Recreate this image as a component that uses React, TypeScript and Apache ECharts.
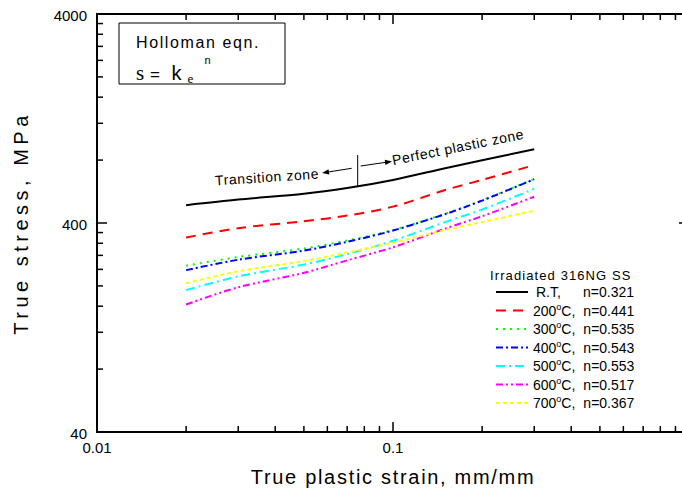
import React, { useEffect, useRef } from "react";
import * as echarts from "echarts";

// ---- data ----
const strain = [0.02, 0.03, 0.05, 0.07, 0.1, 0.15, 0.2, 0.3];
const rt = [487, 518, 552, 588, 643, 731, 798, 901];
const c200 = [341, 378, 408, 434, 479, 575, 643, 757];
const c300 = [250, 275, 302, 330, 370, 443, 514, 650];
const c400 = [238, 267, 295, 325, 368, 441, 512, 648];
const c500 = [191, 222, 253, 284, 329, 404, 464, 584];
const c600 = [163, 197, 231, 265, 306, 376, 431, 534];
const c700 = [206, 235, 263, 289, 322, 370, 404, 458];

const seriesNames = ["R.T", "200C", "300C", "400C", "500C", "600C", "700C"];
const nValues = ["0.321", "0.441", "0.535", "0.543", "0.553", "0.517", "0.367"];
const tempLabels = ["R.T,", "200", "300", "400", "500", "600", "700"];

const xMajor = [0.01, 0.1, 1];
const xTickLabels = ["0.01", "0.1", ""];
const xMinor = [0.02, 0.03, 0.04, 0.05, 0.06, 0.07, 0.08, 0.09, 0.2, 0.3, 0.4, 0.5, 0.6, 0.7, 0.8, 0.9];
const yMajor = [40, 400, 4000];
const yTickLabels = ["40", "400", "4000"];
const yMinor = [80, 120, 160, 200, 240, 280, 320, 360, 800, 1200, 1600, 2000, 2400, 2800, 3200, 3600];

const FONT = "'Liberation Sans', Arial, Helvetica, sans-serif";
const SERIF = "'Liberation Serif', 'Times New Roman', serif";

// letter spacing (tracking) per text, applied to the SVG text nodes
const tracking: Record<string, number> = {
  "True plastic strain, mm/mm": 1.7,
  "True stress, MPa": 4.5,
  "Holloman eqn.": 1.6,
  "Irradiated 316NG SS": 1.1,
  "Transition zone": 0.6,
  "Perfect plastic zone": 0.6,
};

function arrow(x1: number, y1: number, x2: number, y2: number) {
  const dx = x2 - x1, dy = y2 - y1;
  const L = Math.sqrt(dx * dx + dy * dy);
  const ux = dx / L, uy = dy / L;
  const hl = 7, hw = 2.6;
  const bx = x2 - ux * hl, by = y2 - uy * hl;
  return [
    { type: "line", shape: { x1, y1, x2: bx, y2: by }, style: { stroke: "#000", lineWidth: 1 } },
    {
      type: "polygon",
      shape: { points: [[x2, y2], [bx - uy * hw, by + ux * hw], [bx + uy * hw, by - ux * hw]] },
      style: { fill: "#000" },
    },
  ];
}

export default function App() {
  const ref = useRef<HTMLDivElement>(null);
  useEffect(() => {
    if (!ref.current) return;
    const chart = echarts.init(ref.current, null, { renderer: "svg" });

    const mk = (name: string, vals: number[], color: string, type: any) => ({
      name,
      type: "line",
      data: strain.map((s, i) => [s, vals[i]]),
      symbol: "none",
      smooth: 0.3,
      lineStyle: { color, width: 2, type },
      itemStyle: { color },
      z: 3,
    });

    const xTickData = [
      ...xMajor.map((v) => [v, 40, 1]),
      ...xMinor.map((v) => [v, 40, 0]),
    ];
    const yTickData = [
      ...yMajor.map((v, i) => [0.01, v, 1, i]),
      ...yMinor.map((v) => [0.01, v, 0, -1]),
    ];

    const tickStyle = { stroke: "#000", lineWidth: 1.5 };

    const option: any = {
      animation: false,
      grid: { left: 97, top: 14, width: 592, height: 418, show: true, borderColor: "#000", borderWidth: 2, backgroundColor: "transparent" },
      xAxis: {
        type: "log",
        logBase: 10,
        min: 0.01,
        max: 1,
        axisLine: { show: false },
        axisTick: { show: false },
        splitLine: { show: false },
        axisLabel: {
          margin: 8,
          fontSize: 15,
          color: "#000",
          fontFamily: FONT,
          formatter: (v: number) => {
            const i = xMajor.findIndex((m) => Math.abs(Math.log10(m) - Math.log10(v)) < 1e-6);
            return i >= 0 ? xTickLabels[i] : "";
          },
        },
        name: "True plastic strain, mm/mm",
        nameLocation: "middle",
        nameGap: 35,
        nameTextStyle: { fontSize: 20, color: "#000", fontFamily: FONT },
      },
      yAxis: {
        type: "log",
        logBase: 10,
        min: 40,
        max: 4000,
        axisLine: { show: false },
        axisTick: { show: false },
        splitLine: { show: false },
        axisLabel: { show: false },
        name: "True stress, MPa",
        nameLocation: "middle",
        nameGap: 66,
        nameTextStyle: { fontSize: 20, color: "#000", fontFamily: FONT },
      },
      legend: {
        orient: "vertical",
        left: 490,
        top: 279,
        itemWidth: 32,
        itemHeight: 14,
        itemGap: 2.0,
        data: seriesNames,
        itemStyle: { opacity: 0 },
        textStyle: {
          fontSize: 14,
          lineHeight: 16,
          color: "#000",
          fontFamily: FONT,
          rich: {
            r: { fontSize: 14, fontFamily: FONT, color: "#000", width: 47, padding: [0, 0, 0, 3] },
            sup: { fontSize: 9, fontFamily: FONT, color: "#000", padding: [0, 0, 8, 0] },
            c: { fontSize: 14, fontFamily: FONT, color: "#000", width: 22 },
            n: { fontSize: 14, fontFamily: FONT, color: "#000" },
          },
        },
        formatter: (name: string) => {
          const i = seriesNames.indexOf(name);
          if (i === 0) return `{r|${tempLabels[0]}}{n|n=${nValues[0]}}`;
          return `{n|${tempLabels[i]}}{sup|o}{c|C,}{n|n=${nValues[i]}}`;
        },
      },
      graphic: [
        { type: "rect", shape: { x: 119, y: 23, width: 166, height: 61 }, style: { fill: "none", stroke: "#000", lineWidth: 1 } },
        { type: "text", x: 136, y: 42.5, style: { text: "Holloman eqn.", font: `16px ${FONT}`, fill: "#000", verticalAlign: "middle" } },
        { type: "text", x: 136, y: 72.8, style: { text: "s", font: `21px ${SERIF}`, fill: "#000", verticalAlign: "middle" } },
        { type: "text", x: 150, y: 74, style: { text: "=", font: `17px ${FONT}`, fill: "#000", verticalAlign: "middle" } },
        { type: "text", x: 171.5, y: 73, style: { text: "k", font: `20px ${FONT}`, fill: "#000", verticalAlign: "middle" } },
        { type: "text", x: 187.5, y: 78.6, style: { text: "e", font: `13px ${SERIF}`, fill: "#000", verticalAlign: "middle" } },
        { type: "text", x: 204.5, y: 60, style: { text: "n", font: `11px ${FONT}`, fill: "#000", verticalAlign: "middle" } },
        { type: "text", x: 490, y: 275, style: { text: "Irradiated 316NG SS", font: `13px ${FONT}`, fill: "#000", verticalAlign: "middle" } },
        { type: "text", x: 267, y: 177, rotation: 0.066, style: { text: "Transition zone", font: `14px ${FONT}`, fill: "#000", align: "center", verticalAlign: "middle" } },
        { type: "text", x: 458, y: 147, rotation: 0.2, style: { text: "Perfect plastic zone", font: `14px ${FONT}`, fill: "#000", align: "center", verticalAlign: "middle" } },
        { type: "line", shape: { x1: 357.7, y1: 155, x2: 357.7, y2: 186 }, style: { stroke: "#000", lineWidth: 1 } },
        ...arrow(351.7, 168.3, 322, 173),
        ...arrow(360.7, 166, 392, 161.4),
      ],
      series: [
        mk(seriesNames[0], rt, "#000000", "solid"),
        mk(seriesNames[1], c200, "#ff0000", [10, 7]),
        mk(seriesNames[2], c300, "#00ff00", [2, 5]),
        mk(seriesNames[3], c400, "#0000ff", [7, 3, 2, 3]),
        mk(seriesNames[4], c500, "#00ffff", [9, 4, 2, 4]),
        mk(seriesNames[5], c600, "#ff00ff", [7, 3, 2, 3, 2, 3]),
        mk(seriesNames[6], c700, "#ffff00", [4, 3]),
        {
          name: "xticks",
          type: "custom",
          clip: false,
          silent: true,
          data: xTickData,
          z: 5,
          renderItem: (params: any, api: any) => {
            const v = api.value(0);
            const major = api.value(2);
            const b = api.coord([v, 40]);
            const t = api.coord([v, 4000]);
            const len = major ? 10 : 6;
            return {
              type: "group",
              children: [
                { type: "line", shape: { x1: b[0], y1: b[1], x2: b[0], y2: b[1] - len }, style: tickStyle },
                { type: "line", shape: { x1: t[0], y1: t[1], x2: t[0], y2: t[1] + len }, style: tickStyle },
              ],
            };
          },
        },
        {
          name: "yticks",
          type: "custom",
          clip: false,
          silent: true,
          data: yTickData,
          z: 5,
          renderItem: (params: any, api: any) => {
            const v = api.value(1);
            const major = api.value(2);
            const idx = api.value(3);
            const l = api.coord([0.01, v]);
            const r = api.coord([1, v]);
            const len = major ? 10 : 6;
            const children: any[] = [
              { type: "line", shape: { x1: l[0], y1: l[1], x2: l[0] + len, y2: l[1] }, style: tickStyle },
              { type: "line", shape: { x1: r[0], y1: r[1], x2: r[0] - len, y2: r[1] }, style: tickStyle },
            ];
            if (major && idx >= 0) {
              children.push({
                type: "text",
                style: {
                  text: yTickLabels[idx],
                  x: l[0] - 10,
                  y: l[1] + 1,
                  align: "right",
                  verticalAlign: "middle",
                  font: `15px ${FONT}`,
                  fill: "#000",
                },
              });
            }
            return { type: "group", children };
          },
        },
      ],
    };
    chart.setOption(option);

    const applyTracking = () => {
      if (!ref.current) return;
      ref.current.querySelectorAll("text").forEach((el) => {
        const t = el.textContent || "";
        const s = tracking[t];
        if (s) (el as SVGTextElement).style.letterSpacing = `${s}px`;
      });
    };
    applyTracking();
    chart.on("finished", applyTracking);
    return () => chart.dispose();
  }, []);
  return <div ref={ref} style={{ position: "fixed", left: 0, top: 0, width: 700, height: 494, background: "#fff" }} />;
}
